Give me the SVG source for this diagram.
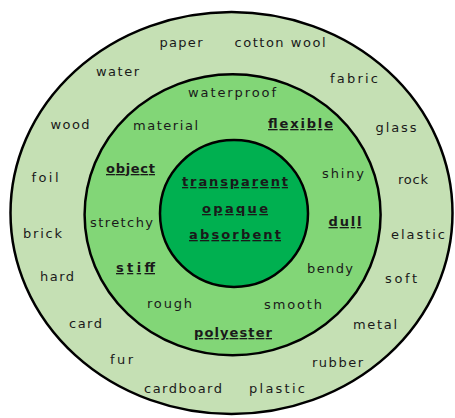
<svg xmlns="http://www.w3.org/2000/svg" width="455" height="418" viewBox="0 0 455 418">
<style>
.ring{stroke:#000;stroke-width:2.5}
text{font-family:"DejaVu Sans","Liberation Sans",sans-serif;font-size:13px;fill:#1a1a1a;text-anchor:middle;lengthAdjust:spacing}
.u{text-decoration:underline;font-weight:bold}
</style>
<rect width="455" height="418" fill="#ffffff"/>
<g id="outer-ring">
<ellipse class="ring" cx="231.5" cy="213" rx="221" ry="201" fill="#c5e0b4"/>
</g>
<g id="middle-ring">
<ellipse class="ring" cx="232.6" cy="214.8" rx="148" ry="140.5" fill="#82d677"/>
</g>
<g id="inner-circle">
<ellipse class="ring" cx="234" cy="213.5" rx="74" ry="73.5" fill="#00b050"/>
</g>
<g id="outer-labels">
<text x="181" y="47" textLength="43" lengthAdjust="spacing">paper</text>
<text x="280" y="47" textLength="91" lengthAdjust="spacing">cotton wool</text>
<text x="117.5" y="76" textLength="43" lengthAdjust="spacing">water</text>
<text x="354" y="83" textLength="48" lengthAdjust="spacing">fabric</text>
<text x="70" y="129" textLength="39" lengthAdjust="spacing">wood</text>
<text x="396" y="132" textLength="41" lengthAdjust="spacing">glass</text>
<text x="45" y="182" textLength="27" lengthAdjust="spacing">foil</text>
<text x="413" y="184" textLength="30" lengthAdjust="spacing">rock</text>
<text x="42.5" y="238" textLength="39" lengthAdjust="spacing">brick</text>
<text x="418" y="239" textLength="54" lengthAdjust="spacing">elastic</text>
<text x="57" y="281" textLength="34" lengthAdjust="spacing">hard</text>
<text x="401" y="283" textLength="32" lengthAdjust="spacing">soft</text>
<text x="85.5" y="328" textLength="33" lengthAdjust="spacing">card</text>
<text x="375" y="329" textLength="44" lengthAdjust="spacing">metal</text>
<text x="121.5" y="364" textLength="23" lengthAdjust="spacing">fur</text>
<text x="337.5" y="367" textLength="51" lengthAdjust="spacing">rubber</text>
<text x="183" y="393" textLength="78" lengthAdjust="spacing">cardboard</text>
<text x="277" y="393" textLength="56" lengthAdjust="spacing">plastic</text>
</g>
<g id="middle-labels">
<text x="232" y="97" textLength="88" lengthAdjust="spacing">waterproof</text>
<text x="165.5" y="130" textLength="65" lengthAdjust="spacing">material</text>
<text class="u" x="300.5" y="128" textLength="65" lengthAdjust="spacing">flexible</text>
<text class="u" x="130.5" y="173" textLength="49" lengthAdjust="spacing">object</text>
<text x="343" y="178" textLength="42" lengthAdjust="spacing">shiny</text>
<text x="121.5" y="227" textLength="63" lengthAdjust="spacing">stretchy</text>
<text class="u" x="345" y="226" textLength="33" lengthAdjust="spacing">dull</text>
<text class="u" x="135.5" y="272" textLength="39" lengthAdjust="spacing">stiff</text>
<text x="330" y="273" textLength="46" lengthAdjust="spacing">bendy</text>
<text x="169.5" y="308" textLength="45" lengthAdjust="spacing">rough</text>
<text x="293" y="309" textLength="58" lengthAdjust="spacing">smooth</text>
<text class="u" x="233" y="337" textLength="78" lengthAdjust="spacing">polyester</text>
</g>
<g id="inner-labels">
<text class="u" x="235" y="186" textLength="106" lengthAdjust="spacing">transparent</text>
<text class="u" x="235" y="213" textLength="66" lengthAdjust="spacing">opaque</text>
<text class="u" x="235" y="239" textLength="92" lengthAdjust="spacing">absorbent</text>
</g>
</svg>
